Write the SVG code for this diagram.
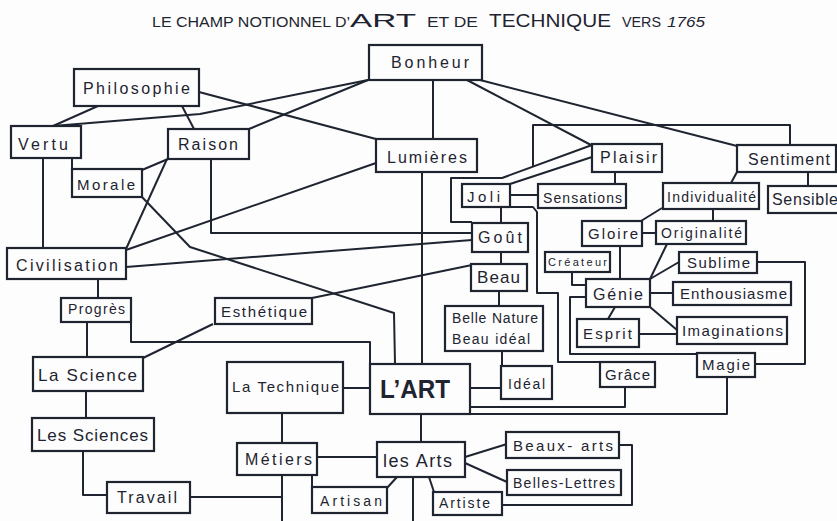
<svg xmlns="http://www.w3.org/2000/svg" width="837" height="521" viewBox="0 0 837 521">
<style>
.bg{fill:#fdfdfd}
.box{fill:#fdfdfd;stroke:#1e2430;stroke-width:2.2}
.ln{fill:none;stroke:#1e2430;stroke-width:2;stroke-linejoin:round}
text{font-family:"Liberation Sans",Arial,sans-serif;fill:#1e2430;font-size:15px}
.t{font-size:14px}
.big{font-size:19px}
.it{font-style:italic}
.s11{font-size:11px}
.s14{font-size:14px}
.s16{font-size:16px}
.s17{font-size:17px}
.s18{font-size:18px}
.art{font-size:26px;font-weight:bold}
</style>
<rect class="bg" x="0" y="0" width="837" height="521"/>
<g id="title">
<text class="t" x="152" y="27" textLength="198" lengthAdjust="spacingAndGlyphs">LE CHAMP NOTIONNEL D’</text>
<text class="big" x="350" y="27" textLength="66" lengthAdjust="spacingAndGlyphs">ART</text>
<text class="t" x="427" y="27" textLength="51" lengthAdjust="spacingAndGlyphs">ET DE</text>
<text class="big" x="489" y="27" textLength="122" lengthAdjust="spacingAndGlyphs">TECHNIQUE</text>
<text class="t" x="622" y="27" textLength="39" lengthAdjust="spacingAndGlyphs">VERS</text>
<text class="t it" x="667" y="27" textLength="38" lengthAdjust="spacingAndGlyphs">1765</text>
</g>
<g id="connectors">
<path class="ln" d="M98,106 L53,126"/>
<path class="ln" d="M182,106 L194,129"/>
<path class="ln" d="M53,126 L200,114 L368,80"/>
<path class="ln" d="M249,129 L368,80"/>
<path class="ln" d="M199,92 L376,139"/>
<path class="ln" d="M433,80 L433,139"/>
<path class="ln" d="M467,80 L591,145"/>
<path class="ln" d="M480,80 L737,146"/>
<path class="ln" d="M72,158 L72,169"/>
<path class="ln" d="M43,158 L43,248"/>
<path class="ln" d="M168,159 L142,170"/>
<path class="ln" d="M167,159 L126,249"/>
<path class="ln" d="M211,159 L211,233 L472,233"/>
<path class="ln" d="M142,197 L190,247 L394,313 L395,364"/>
<path class="ln" d="M376,163 L126,250"/>
<path class="ln" d="M422,172 L422,364"/>
<path class="ln" d="M126,267 L472,240"/>
<path class="ln" d="M98,279 L98,298"/>
<path class="ln" d="M87,322 L87,357"/>
<path class="ln" d="M131,322 L131,342 L370,342 L370,364"/>
<path class="ln" d="M312,298 L472,265"/>
<path class="ln" d="M213,324 L143,358"/>
<path class="ln" d="M592,157 L510,184"/>
<path class="ln" d="M592,145 L502,178 L451,178 L451,222 L472,222"/>
<path class="ln" d="M790,145 L790,125 L533,125 L533,167"/>
<path class="ln" d="M615,172 L615,184"/>
<path class="ln" d="M510,195 L538,195"/>
<path class="ln" d="M501,207 L501,223"/>
<path class="ln" d="M510,207 L533,207 L537,212 L537,293 L558,293 L558,362 L600,362"/>
<path class="ln" d="M501,252 L501,264"/>
<path class="ln" d="M499,291 L499,306"/>
<path class="ln" d="M502,351 L502,366"/>
<path class="ln" d="M470,388 L501,388"/>
<path class="ln" d="M625,387 L625,407 L470,407"/>
<path class="ln" d="M727,377 L727,414 L470,414"/>
<path class="ln" d="M755,364 L805,364 L805,262 L757,262"/>
<path class="ln" d="M697,354 L570,354 L570,297 L586,297"/>
<path class="ln" d="M572,272 L572,285 L586,285"/>
<path class="ln" d="M620,246 L620,279"/>
<path class="ln" d="M642,233 L656,233"/>
<path class="ln" d="M713,209 L713,221"/>
<path class="ln" d="M662,208 L641,221"/>
<path class="ln" d="M737,172 L731,183"/>
<path class="ln" d="M808,172 L808,186"/>
<path class="ln" d="M650,279 L667,244"/>
<path class="ln" d="M650,279 L679,262"/>
<path class="ln" d="M650,293 L673,293"/>
<path class="ln" d="M650,307 L677,330"/>
<path class="ln" d="M615,307 L608,319"/>
<path class="ln" d="M639,334 L677,334"/>
<path class="ln" d="M343,388 L370,388"/>
<path class="ln" d="M282,413 L282,443"/>
<path class="ln" d="M421,414 L421,442"/>
<path class="ln" d="M317,457 L377,457"/>
<path class="ln" d="M465,457 L507,444"/>
<path class="ln" d="M465,463 L507,482"/>
<path class="ln" d="M619,445 L632,445 L632,505 L502,505"/>
<path class="ln" d="M429,477 L434,492"/>
<path class="ln" d="M397,477 L387,488"/>
<path class="ln" d="M312,475 L312,487"/>
<path class="ln" d="M413,477 L413,521"/>
<path class="ln" d="M282,475 L282,521"/>
<path class="ln" d="M190,497 L282,497"/>
<path class="ln" d="M86,391 L86,418"/>
<path class="ln" d="M83,451 L83,495 L107,495"/>
</g>
<g id="bonheur"><rect class="box" x="369" y="45" width="113" height="35"/><text class="s16" x="391" y="68" textLength="78" lengthAdjust="spacing">Bonheur</text></g>
<g id="philosophie"><rect class="box" x="74" y="69" width="125" height="37"/><text class="s16" x="83" y="94" textLength="107" lengthAdjust="spacing">Philosophie</text></g>
<g id="vertu"><rect class="box" x="11" y="126" width="70" height="32"/><text class="s16" x="18" y="150" textLength="50" lengthAdjust="spacing">Vertu</text></g>
<g id="raison"><rect class="box" x="168" y="129" width="81" height="30"/><text class="s16" x="178" y="150" textLength="60" lengthAdjust="spacing">Raison</text></g>
<g id="morale"><rect class="box" x="72" y="169" width="70" height="28"/><text x="77" y="190" textLength="58" lengthAdjust="spacing">Morale</text></g>
<g id="lumieres"><rect class="box" x="376" y="139" width="101" height="33"/><text class="s16" x="387" y="163" textLength="80" lengthAdjust="spacing">Lumières</text></g>
<g id="plaisir"><rect class="box" x="592" y="144" width="70" height="28"/><text class="s16" x="600" y="163" textLength="57" lengthAdjust="spacing">Plaisir</text></g>
<g id="sentiment"><rect class="box" x="737" y="145" width="99" height="27"/><text class="s16" x="748" y="165" textLength="82" lengthAdjust="spacing">Sentiment</text></g>
<g id="joli"><rect class="box" x="462" y="184" width="48" height="23"/><text x="467" y="202" textLength="33" lengthAdjust="spacing">Joli</text></g>
<g id="sensations"><rect class="box" x="538" y="184" width="88" height="24"/><text class="s14" x="543" y="203" textLength="79" lengthAdjust="spacing">Sensations</text></g>
<g id="individualite"><rect class="box" x="663" y="183" width="96" height="26"/><text class="s14" x="667" y="202" textLength="89" lengthAdjust="spacing">Individualité</text></g>
<g id="sensible"><rect class="box" x="768" y="186" width="72" height="27"/><text class="s16" x="772" y="205" textLength="66" lengthAdjust="spacing">Sensible</text></g>
<g id="gloire"><rect class="box" x="582" y="221" width="60" height="25"/><text x="588" y="239" textLength="50" lengthAdjust="spacing">Gloire</text></g>
<g id="originalite"><rect class="box" x="656" y="221" width="90" height="23"/><text class="s14" x="661" y="238" textLength="81" lengthAdjust="spacing">Originalité</text></g>
<g id="gout"><rect class="box" x="472" y="223" width="56" height="29"/><text class="s16" x="478" y="243" textLength="44" lengthAdjust="spacing">Goût</text></g>
<g id="civilisation"><rect class="box" x="7" y="248" width="119" height="31"/><text class="s16" x="16" y="271" textLength="102" lengthAdjust="spacing">Civilisation</text></g>
<g id="beau"><rect class="box" x="471" y="264" width="56" height="27"/><text class="s17" x="477" y="283" textLength="43" lengthAdjust="spacing">Beau</text></g>
<g id="createur"><rect class="box" x="545" y="252" width="65" height="20"/><text class="s11" x="548" y="266" textLength="59" lengthAdjust="spacing">Créateur</text></g>
<g id="sublime"><rect class="box" x="679" y="252" width="78" height="21"/><text x="687" y="268" textLength="63" lengthAdjust="spacing">Sublime</text></g>
<g id="genie"><rect class="box" x="586" y="279" width="64" height="28"/><text class="s16" x="593" y="300" textLength="50" lengthAdjust="spacing">Génie</text></g>
<g id="enthousiasme"><rect class="box" x="673" y="282" width="118" height="23"/><text x="680" y="299" textLength="107" lengthAdjust="spacing">Enthousiasme</text></g>
<g id="progres"><rect class="box" x="61" y="298" width="70" height="24"/><text class="s14" x="68" y="314" textLength="57" lengthAdjust="spacing">Progrès</text></g>
<g id="esthetique"><rect class="box" x="215" y="298" width="97" height="26"/><text x="221" y="317" textLength="86" lengthAdjust="spacing">Esthétique</text></g>
<g id="bellenature"><rect class="box" x="445" y="306" width="98" height="45"/><text class="s14" x="452" y="323" textLength="86" lengthAdjust="spacing">Belle Nature</text><text class="s14" x="452" y="344" textLength="78" lengthAdjust="spacing">Beau idéal</text></g>
<g id="esprit"><rect class="box" x="577" y="319" width="62" height="28"/><text x="583" y="339" textLength="49" lengthAdjust="spacing">Esprit</text></g>
<g id="imaginations"><rect class="box" x="677" y="317" width="110" height="27"/><text x="682" y="336" textLength="101" lengthAdjust="spacing">Imaginations</text></g>
<g id="magie"><rect class="box" x="697" y="353" width="58" height="24"/><text x="702" y="370" textLength="48" lengthAdjust="spacing">Magie</text></g>
<g id="grace"><rect class="box" x="600" y="362" width="55" height="25"/><text x="605" y="380" textLength="45" lengthAdjust="spacing">Grâce</text></g>
<g id="lascience"><rect class="box" x="33" y="357" width="110" height="34"/><text class="s17" x="38" y="381" textLength="99" lengthAdjust="spacing">La Science</text></g>
<g id="latechnique"><rect class="box" x="227" y="362" width="116" height="51"/><text x="232" y="392" textLength="107" lengthAdjust="spacing">La Technique</text></g>
<g id="lart"><rect class="box" x="370" y="364" width="100" height="50"/><text class="art" x="380" y="398" textLength="70" lengthAdjust="spacingAndGlyphs">L’ART</text></g>
<g id="ideal"><rect class="box" x="501" y="366" width="51" height="33"/><text class="s14" x="508" y="389" textLength="37" lengthAdjust="spacing">Idéal</text></g>
<g id="lessciences"><rect class="box" x="32" y="418" width="122" height="33"/><text class="s17" x="37" y="441" textLength="111" lengthAdjust="spacing">Les Sciences</text></g>
<g id="metiers"><rect class="box" x="237" y="443" width="80" height="32"/><text class="s16" x="245" y="465" textLength="67" lengthAdjust="spacing">Métiers</text></g>
<g id="lesarts"><rect class="box" x="377" y="442" width="88" height="35"/><text class="s18" x="383" y="467" textLength="69" lengthAdjust="spacing">les Arts</text></g>
<g id="beauxarts"><rect class="box" x="506" y="432" width="113" height="26"/><text x="513" y="451" textLength="100" lengthAdjust="spacing">Beaux- arts</text></g>
<g id="belleslettres"><rect class="box" x="507" y="470" width="114" height="25"/><text class="s14" x="513" y="488" textLength="102" lengthAdjust="spacing">Belles-Lettres</text></g>
<g id="artisan"><rect class="box" x="312" y="487" width="75" height="26"/><text class="s14" x="320" y="506" textLength="62" lengthAdjust="spacing">Artisan</text></g>
<g id="artiste"><rect class="box" x="433" y="492" width="69" height="23"/><text class="s14" x="439" y="508" textLength="51" lengthAdjust="spacing">Artiste</text></g>
<g id="travail"><rect class="box" x="107" y="482" width="83" height="31"/><text class="s16" x="117" y="503" textLength="60" lengthAdjust="spacing">Travail</text></g>
</svg>
